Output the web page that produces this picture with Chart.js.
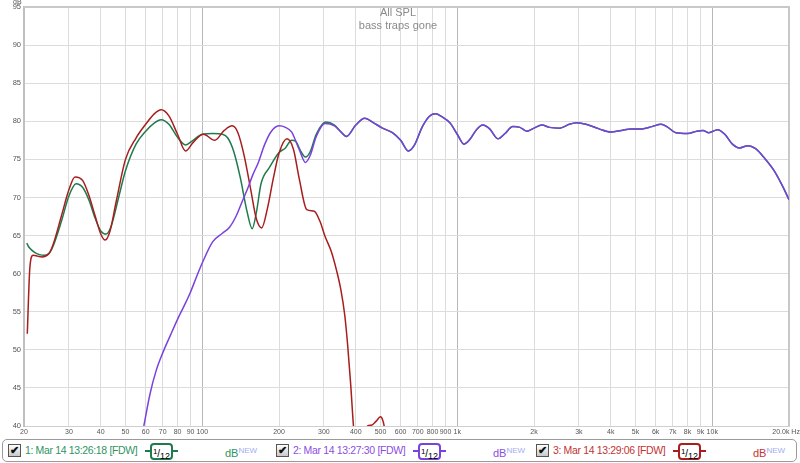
<!DOCTYPE html>
<html>
<head>
<meta charset="utf-8">
<script src="https://cdn.jsdelivr.net/npm/chart.js@4.4.0/dist/chart.umd.min.js"></script>
<style>
body { margin: 0; background: #fff; font-family: "Liberation Sans", Arial, sans-serif; }
#wrap { position: relative; width: 800px; height: 463px; overflow: hidden; }
#spl { position: absolute; left: 0; top: 0; }
.title { position: absolute; left: 0; width: 796px; text-align: center; color: #8a8a8a; font-size: 11px; line-height: 13px; }
.unit { position: absolute; left: 13px; top: -2px; font-size: 7px; color: #555; }
.legend { position: absolute; left: 2px; top: 439px; width: 793px; height: 21px; border: 1px solid #9a9a9a; border-radius: 5px; }
.chk { position: absolute; top: 444px; width: 11px; height: 11px; border: 1px solid #555; background: linear-gradient(#fff, #c8c8c8); font-size: 11px; line-height: 11px; text-align: center; color: #111; font-weight: bold; }
.lbl { position: absolute; top: 444px; font-size: 10.5px; letter-spacing: -0.35px; line-height: 13px; white-space: nowrap; }
.ico { position: absolute; top: 443px; width: 33px; height: 17px; }
.ico .stub { position: absolute; top: 7px; width: 6px; height: 2px; }
.ico .box { position: absolute; left: 5px; top: 0; width: 19px; height: 13px; border: 2px solid; border-radius: 4px; font-size: 10px; line-height: 13px; color: #000; text-align: center; background: #fff; }
.ico .box sup { font-size: 8px; vertical-align: 3px; }
.ico .box span { font-size: 9px; vertical-align: -2px; }
.db { position: absolute; top: 444px; font-size: 11px; line-height: 13px; }
.db sup { font-size: 8px; color: #a4acf2; vertical-align: 4px; }
</style>
</head>
<body>
<div id="wrap">
  <canvas id="spl" width="800" height="437"></canvas>
  <div class="unit">dB</div>
  <div class="title" style="top:6px">All SPL</div>
  <div class="title" style="top:19px">bass traps gone</div>
  <div class="legend"></div>
  <div id="items"></div>
</div>
<script>
// 周波数軸の目盛
var xTicks = [20, 30, 40, 50, 60, 70, 80, 90, 100, 200, 300, 400, 500, 600, 700, 800, 900,
              1000, 2000, 3000, 4000, 5000, 6000, 7000, 8000, 9000, 10000, 20000];

// 1: Mar 14 13:26:18 (green)
var greenHz = [20.5, 21, 22, 23, 24, 25, 26, 28, 30, 32, 34, 36, 38, 40, 42, 44, 47, 50, 55, 60, 65, 69, 74, 80, 86,
               92, 100, 110, 120, 126, 133, 141, 150, 157, 163, 170, 184, 200, 212, 224, 232, 244, 254, 265, 280, 305, 330, 350];
var greenDb = [64.0, 63.4, 62.8, 62.5, 62.4, 62.6, 63.6, 66.8, 70.2, 71.8, 71.3, 69.6, 67.3, 65.6, 65.2, 66.3, 70.0, 73.5, 77.0, 78.7, 79.8, 80.2, 79.6, 77.9, 76.9,
               77.5, 78.3, 78.4, 78.3, 77.8, 76.0, 72.6, 68.1, 65.9, 68.0, 71.8, 74.0, 75.9, 76.5, 77.5, 77.4, 76.0, 75.3, 76.0, 78.3, 79.9, 79.5, 78.6];

// 2: Mar 14 13:27:30 (purple)
var purpleHz = [59, 62.4, 66, 70, 75, 80, 85, 90, 95, 100, 110, 120, 128, 136, 144, 150, 158, 166, 175, 185,
                200, 212, 224, 240, 254, 265, 280, 303, 330, 350];
var purpleDb = [40.0, 44.2, 47.3, 49.6, 51.9, 54.0, 55.8, 57.6, 59.6, 61.4, 64.2, 65.3, 66.1, 67.6, 69.6, 71.0, 73.0, 74.6, 76.8, 78.5,
                79.4, 79.2, 78.6, 76.3, 74.6, 75.5, 78.0, 79.7, 79.4, 78.6];

// 3: Mar 14 13:29:06 (red)
var redHz = [20.6, 21.1, 21.7, 22.6, 23.5, 25, 26, 28, 30, 31.7, 34, 36, 38, 40, 41.6, 43.5, 46, 50, 55, 60, 65, 69, 74, 80, 86,
             92, 101, 112, 122, 131, 138, 146, 155, 163, 171, 180, 190, 200, 215, 228, 240, 257, 275, 290, 303, 320, 337, 350, 362,
             372, 382, 393, 405, 425, 445, 460, 480, 500, 510, 520, 535];
var redDb = [52.1, 60.9, 62.4, 62.3, 62.2, 62.6, 63.8, 67.5, 71.0, 72.7, 72.2, 70.2, 67.6, 65.2, 64.4, 65.6, 69.5, 75.0, 77.8, 79.6, 81.0, 81.5, 80.7, 78.3, 76.1,
             77.2, 78.3, 77.5, 78.8, 79.4, 78.5, 75.5, 71.0, 67.2, 66.0, 68.5, 72.5, 75.8, 77.7, 76.3, 72.5, 68.4, 68.2, 66.8, 64.9, 63.0, 60.3, 57.8, 54.6,
             50.5, 45.5, 39.5, 37.0, 37.5, 40.0, 40.1, 40.6, 41.2, 40.8, 39.5, 36.0];

// 1と2は 370Hz 以上で同じ
var sharedHz = [368, 400, 434, 470, 509, 557, 600, 644, 680, 730, 780, 823, 870, 936, 1000, 1063, 1120, 1190, 1260, 1340,
                1443, 1540, 1652, 1760, 1875, 2000, 2147, 2300, 2520, 2750, 2950, 3200, 3600, 4000, 4400, 4800, 5300, 5800,
                6300, 6700, 7200, 8000, 8700, 9200, 9700, 10500, 11200, 12000, 12800, 13800, 14800, 16000, 17500, 19000, 20000];
var sharedDb = [78.0, 79.5, 80.4, 79.8, 79.1, 78.5, 77.5, 76.1, 76.9, 79.3, 80.7, 81.0, 80.6, 79.8, 78.3, 77.0, 77.6, 78.9, 79.5, 79.0,
                77.7, 78.4, 79.3, 79.2, 78.7, 79.1, 79.5, 79.2, 79.1, 79.6, 79.8, 79.6, 79.0, 78.6, 78.8, 79.0, 79.0, 79.3,
                79.6, 79.2, 78.5, 78.4, 78.7, 78.8, 78.5, 78.9, 78.3, 77.0, 76.5, 76.8, 76.4, 75.2, 73.5, 71.3, 69.7];

var series = [
    {name: '1: Mar 14 13:26:18 [FDW]', line: '#1f7a4e', text: '#2f9463', x: 8},
    {name: '2: Mar 14 13:27:30 [FDW]', line: '#7a42dc', text: '#8a4fe2', x: 276},
    {name: '3: Mar 14 13:29:06 [FDW]', line: '#a81d1d', text: '#c23434', x: 536}
];

function toPoints(hz, db) {
    var pts = [];
    for (var i = 0; i < hz.length; i++) {
        pts.push({x: hz[i], y: db[i]});
    }
    return pts;
}

function xLabel(v) {
    if (v == 20000) return '20.0k Hz   ';
    if (v >= 1000) return (v / 1000) + 'k';
    return '' + v;
}

// 枠線 (上と右)
var frame = {
    id: 'frame',
    beforeDatasetsDraw: function(chart) {
        var ctx = chart.ctx, a = chart.chartArea;
        ctx.save();
        ctx.strokeStyle = '#c8c8c8';
        ctx.lineWidth = 2;
        ctx.beginPath();
        ctx.moveTo(a.left, a.top);
        ctx.lineTo(a.right, a.top);
        ctx.lineTo(a.right, a.bottom);
        ctx.stroke();
        ctx.restore();
    }
};

var fontFam = '"Liberation Sans", Arial, sans-serif';
var ctx = document.getElementById('spl').getContext('2d');
var myChart = new Chart(ctx, {
    type: 'line',
    data: {
        datasets: [
            {data: toPoints(purpleHz.concat(sharedHz), purpleDb.concat(sharedDb)), borderColor: series[1].line},
            {data: toPoints(redHz, redDb), borderColor: series[2].line},
            {data: toPoints(greenHz.concat(sharedHz), greenDb.concat(sharedDb)), borderColor: series[0].line}
        ]
    },
    options: {
        responsive: false,
        animation: false,
        layout: {padding: {top: 7, right: 11, left: 0, bottom: 0}},
        plugins: {legend: {display: false}, tooltip: {enabled: false}},
        elements: {
            point: {radius: 0},
            line: {borderWidth: 1.5, cubicInterpolationMode: 'monotone', fill: false}
        },
        scales: {
            x: {
                type: 'logarithmic',
                min: 20,
                max: 20000,
                afterBuildTicks: function(s) {
                    s.ticks = xTicks.map(function(v) { return {value: v}; });
                },
                afterFit: function(s) {
                    s.height = 11;
                    s.paddingLeft = 0;
                    s.paddingRight = 0;
                },
                ticks: {
                    autoSkip: false,
                    maxRotation: 0,
                    minRotation: 0,
                    padding: 2,
                    color: '#555',
                    font: {size: 7, family: fontFam},
                    callback: function(v) { return xLabel(v); }
                },
                grid: {
                    drawTicks: false,
                    color: function(c) {
                        var v = c.tick ? c.tick.value : 0;
                        return (v == 100 || v == 1000 || v == 10000) ? '#b8b8b8' : '#dcdcdc';
                    }
                },
                border: {color: '#cfcfcf'}
            },
            y: {
                min: 40,
                max: 95,
                afterFit: function(s) {
                    s.width = 24;
                    s.paddingTop = 0;
                    s.paddingBottom = 0;
                },
                ticks: {
                    stepSize: 5,
                    padding: 3,
                    color: '#555',
                    font: {size: 7.5, family: fontFam}
                },
                grid: {drawTicks: false, color: '#dcdcdc'},
                border: {width: 2, color: '#c0c0c0'}
            }
        }
    },
    plugins: [frame]
});

// 凡例
var html = '';
series.forEach(function(s) {
    html += '<div class="chk" style="left:' + s.x + 'px">&#10004;</div>';
    html += '<div class="lbl" style="left:' + (s.x + 17) + 'px;color:' + s.text + '">' + s.name + '</div>';
    html += '<div class="ico" style="left:' + (s.x + 137) + 'px">' +
            '<div class="stub" style="left:0;background:' + s.line + '"></div>' +
            '<div class="stub" style="left:27px;background:' + s.line + '"></div>' +
            '<div class="box" style="border-color:' + s.line + '"><sup>1</sup>/<span>12</span></div></div>';
    html += '<div class="db" style="left:' + (s.x + 217) + 'px;color:' + s.text + '">dB<sup>NEW</sup></div>';
});
document.getElementById('items').innerHTML = html;
</script>
</body>
</html>
